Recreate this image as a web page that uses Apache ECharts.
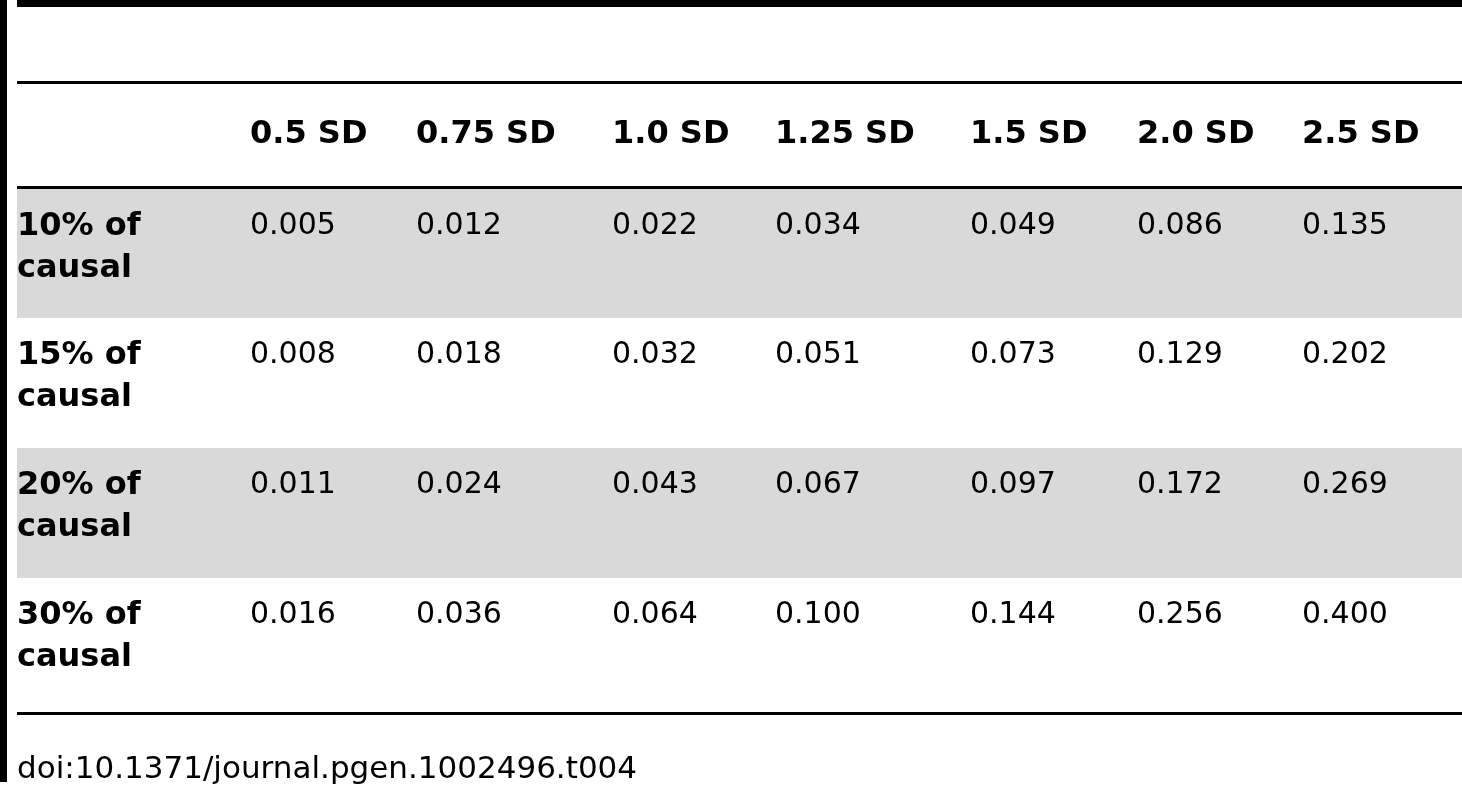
<!DOCTYPE html>
<html>
<head>
<meta charset="utf-8">
<script src="https://cdn.jsdelivr.net/npm/echarts@6/dist/echarts.min.js"></script>
<style>html,body{margin:0;padding:0;background:#fff}#main{width:1462px;height:800px}</style>
</head>
<body>
<div id="main"></div>
<script>
var columns = ['0.5 SD', '0.75 SD', '1.0 SD', '1.25 SD', '1.5 SD', '2.0 SD', '2.5 SD'];
var rowLabels = ['10% of\ncausal', '15% of\ncausal', '20% of\ncausal', '30% of\ncausal'];
var row10 = ['0.005', '0.012', '0.022', '0.034', '0.049', '0.086', '0.135'];
var row15 = ['0.008', '0.018', '0.032', '0.051', '0.073', '0.129', '0.202'];
var row20 = ['0.011', '0.024', '0.043', '0.067', '0.097', '0.172', '0.269'];
var row30 = ['0.016', '0.036', '0.064', '0.100', '0.144', '0.256', '0.400'];
var rows = [row10, row15, row20, row30];
var footer = 'doi:10.1371/journal.pgen.1002496.t004';

// layout (pixels)
var colLeft = [17, 250, 416, 612, 775, 970, 1137, 1302];
var rowTop = [189, 318, 448, 578];
var rowBottom = [318, 448, 578, 712];
var font = '"DejaVu Sans", sans-serif';

var cells = [];
rows.forEach(function (r, ri) {
  cells.push([0, ri, rowLabels[ri], 1]);
  r.forEach(function (v, ci) { cells.push([ci + 1, ri, v, 0]); });
});
columns.forEach(function (c, ci) { cells.push([ci + 1, -1, c, 1]); });

var chart = echarts.init(document.getElementById('main'));
chart.setOption({
  animation: false,
  grid: { left: 0, right: 0, top: 0, bottom: 0 },
  xAxis: { type: 'value', min: 0, max: 8, show: false },
  yAxis: { type: 'value', min: -1, max: 4, show: false, inverse: true },
  series: [{
    type: 'custom',
    data: cells,
    renderItem: function (params, api) {
      var ci = api.value(0), ri = api.value(1);
      var txt = cells[params.dataIndex][2];
      var bold = api.value(3) === 1;
      var children = [];
      if (ci === 0 && ri % 2 === 0) {
        children.push({ type: 'rect', shape: { x: 17, y: rowTop[ri], width: 1445, height: rowBottom[ri] - rowTop[ri] }, style: { fill: '#d9d9d9' }, z2: 0 });
      }
      var y = ri < 0 ? 135 : rowTop[ri] + 37;
      if (ci === 0 && ri >= 0) y = rowTop[ri] + 17;
      children.push({
        type: 'text', z2: 5,
        style: {
          x: colLeft[ci], y: y, text: txt, fill: '#000',
          font: (bold ? 'bold 32px ' : '30px ') + font,
          lineHeight: 42,
          verticalAlign: (ci === 0 && ri >= 0) ? 'top' : 'middle', align: 'left'
        }
      });
      return { type: 'group', children: children };
    }
  }],
  graphic: [
    { type: 'rect', shape: { x: 0, y: 0, width: 7, height: 782 }, style: { fill: '#000' } },
    { type: 'rect', shape: { x: 17, y: 0, width: 1445, height: 7 }, style: { fill: '#000' } },
    { type: 'rect', shape: { x: 17, y: 81, width: 1445, height: 3 }, style: { fill: '#000' } },
    { type: 'rect', shape: { x: 17, y: 186, width: 1445, height: 3 }, style: { fill: '#000' } },
    { type: 'rect', shape: { x: 17, y: 712, width: 1445, height: 3 }, style: { fill: '#000' } },
    { type: 'text', style: { x: 17, y: 770, text: footer, fill: '#000', font: '31px ' + font, verticalAlign: 'middle' } }
  ]
});
</script>
</body>
</html>
